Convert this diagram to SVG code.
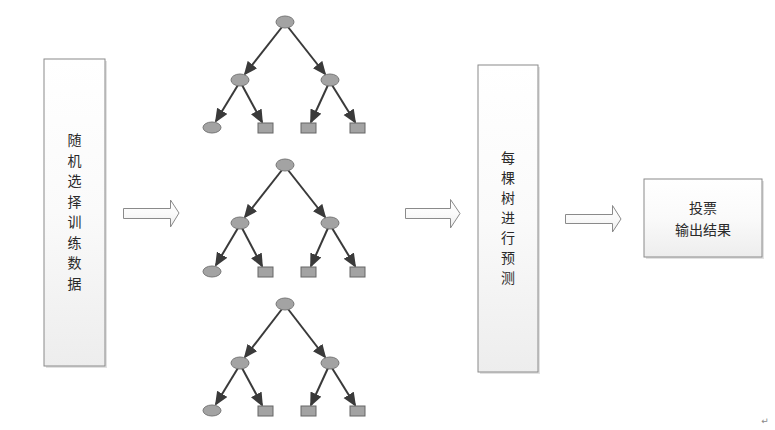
<svg xmlns="http://www.w3.org/2000/svg" width="775" height="430" viewBox="0 0 775 430">
<defs>
<linearGradient id="boxg" x1="0" y1="0" x2="0" y2="1">
<stop offset="0" stop-color="#ffffff"/>
<stop offset="0.5" stop-color="#fafafa"/>
<stop offset="1" stop-color="#ededed"/>
</linearGradient>
<marker id="ah" markerUnits="userSpaceOnUse" markerWidth="15" markerHeight="13" refX="12" refY="6" orient="auto">
<path d="M0,0 L14,6 L0,12 Z" fill="#3a3a3a"/>
</marker>
</defs>
<style>
.box{fill:url(#boxg);stroke:#8a8a8a;stroke-width:1}
.shadow{fill:#e2e2e2}
.barrow{fill:url(#boxg);stroke:#8a8a8a;stroke-width:1}
.el{fill:#a3a3a3;stroke:#777;stroke-width:1}
.sq{fill:#a3a3a3;stroke:#666;stroke-width:1}
.edge{stroke:#3a3a3a;stroke-width:2;fill:none;marker-end:url(#ah)}
.t{font-family:"Noto Sans CJK SC","Noto Sans CJK JP",sans-serif;font-size:14px;fill:#2a2a2a;text-anchor:middle}
</style>
<rect width="775" height="430" fill="#ffffff"/>

<g id="box-left">
<rect class="shadow" x="46" y="61" width="61" height="307"/>
<rect class="box" x="44" y="59" width="61" height="307"/>
<text class="t"><tspan x="74.5" y="145">随</tspan><tspan x="74.5" y="165.5">机</tspan><tspan x="74.5" y="186">选</tspan><tspan x="74.5" y="206.5">择</tspan><tspan x="74.5" y="227">训</tspan><tspan x="74.5" y="247.5">练</tspan><tspan x="74.5" y="268">数</tspan><tspan x="74.5" y="288.5">据</tspan></text>
</g>

<g id="box-mid">
<rect class="shadow" x="480" y="67" width="60" height="307"/>
<rect class="box" x="478" y="65" width="60" height="307"/>
<text class="t"><tspan x="508" y="163">每</tspan><tspan x="508" y="183">棵</tspan><tspan x="508" y="203">树</tspan><tspan x="508" y="223">进</tspan><tspan x="508" y="243">行</tspan><tspan x="508" y="263">预</tspan><tspan x="508" y="283">测</tspan></text>
</g>

<g id="box-right">
<rect class="shadow" x="646" y="181" width="118" height="78"/>
<rect class="box" x="644" y="179" width="118" height="78"/>
<text class="t"><tspan x="703" y="213">投票</tspan><tspan x="703" y="235">输出结果</tspan></text>
</g>

<g id="connectors">
<path class="barrow" d="M123.5,208.5 L170.5,208.5 L170.5,200 L179,213 L170.5,227 L170.5,218.5 L123.5,218.5 Z"/>
<path class="barrow" d="M405.5,208.5 L450.5,208.5 L450.5,199.5 L460,213.5 L450.5,228 L450.5,218.5 L405.5,218.5 Z"/>
<path class="barrow" d="M565.5,214.5 L612.5,214.5 L612.5,205.5 L621,219 L612.5,232 L612.5,223.5 L565.5,223.5 Z"/>

<line class="edge" x1="282" y1="27" x2="245" y2="74"/>
<line class="edge" x1="288" y1="27" x2="325" y2="74"/>
<line class="edge" x1="238" y1="85" x2="216" y2="121"/>
<line class="edge" x1="242" y1="85" x2="262" y2="122"/>
<line class="edge" x1="328" y1="85" x2="311" y2="122"/>
<line class="edge" x1="332" y1="85" x2="355" y2="122"/>

<line class="edge" x1="282" y1="170" x2="245" y2="217"/>
<line class="edge" x1="288" y1="170" x2="325" y2="217"/>
<line class="edge" x1="238" y1="228" x2="216" y2="265"/>
<line class="edge" x1="242" y1="228" x2="262" y2="266"/>
<line class="edge" x1="328" y1="228" x2="311" y2="266"/>
<line class="edge" x1="332" y1="228" x2="355" y2="266"/>

<line class="edge" x1="282" y1="309" x2="245" y2="357"/>
<line class="edge" x1="288" y1="309" x2="325" y2="357"/>
<line class="edge" x1="238" y1="368" x2="216" y2="404"/>
<line class="edge" x1="242" y1="368" x2="262" y2="405"/>
<line class="edge" x1="328" y1="368" x2="311" y2="405"/>
<line class="edge" x1="332" y1="368" x2="355" y2="405"/>
</g>

<g id="t1-root"><ellipse class="el" cx="285" cy="22" rx="9" ry="6"/></g>
<g id="t1-l"><ellipse class="el" cx="240" cy="80" rx="9" ry="6"/></g>
<g id="t1-r"><ellipse class="el" cx="330" cy="80" rx="9" ry="6"/></g>
<g id="t1-ll"><ellipse class="el" cx="212" cy="127.5" rx="9" ry="5.5"/></g>
<g id="t1-lr"><rect class="sq" x="258" y="123" width="15" height="10"/></g>
<g id="t1-rl"><rect class="sq" x="301" y="123" width="15" height="10"/></g>
<g id="t1-rr"><rect class="sq" x="350" y="123" width="15" height="10"/></g>

<g id="t2-root"><ellipse class="el" cx="285" cy="165" rx="9" ry="6"/></g>
<g id="t2-l"><ellipse class="el" cx="240" cy="223" rx="9" ry="6"/></g>
<g id="t2-r"><ellipse class="el" cx="330" cy="223" rx="9" ry="6"/></g>
<g id="t2-ll"><ellipse class="el" cx="212" cy="271.5" rx="9" ry="5.5"/></g>
<g id="t2-lr"><rect class="sq" x="258" y="267" width="15" height="10"/></g>
<g id="t2-rl"><rect class="sq" x="301" y="267" width="15" height="10"/></g>
<g id="t2-rr"><rect class="sq" x="350" y="267" width="15" height="10"/></g>

<g id="t3-root"><ellipse class="el" cx="285" cy="304" rx="9" ry="6"/></g>
<g id="t3-l"><ellipse class="el" cx="240" cy="363" rx="9" ry="6"/></g>
<g id="t3-r"><ellipse class="el" cx="330" cy="363" rx="9" ry="6"/></g>
<g id="t3-ll"><ellipse class="el" cx="212" cy="410.5" rx="9" ry="5.5"/></g>
<g id="t3-lr"><rect class="sq" x="258" y="406" width="15" height="10"/></g>
<g id="t3-rl"><rect class="sq" x="301" y="406" width="15" height="10"/></g>
<g id="t3-rr"><rect class="sq" x="350" y="406" width="15" height="10"/></g>

<text x="765" y="424" font-family="DejaVu Sans, sans-serif" font-size="9" fill="#888" text-anchor="middle">↵</text>
</svg>
